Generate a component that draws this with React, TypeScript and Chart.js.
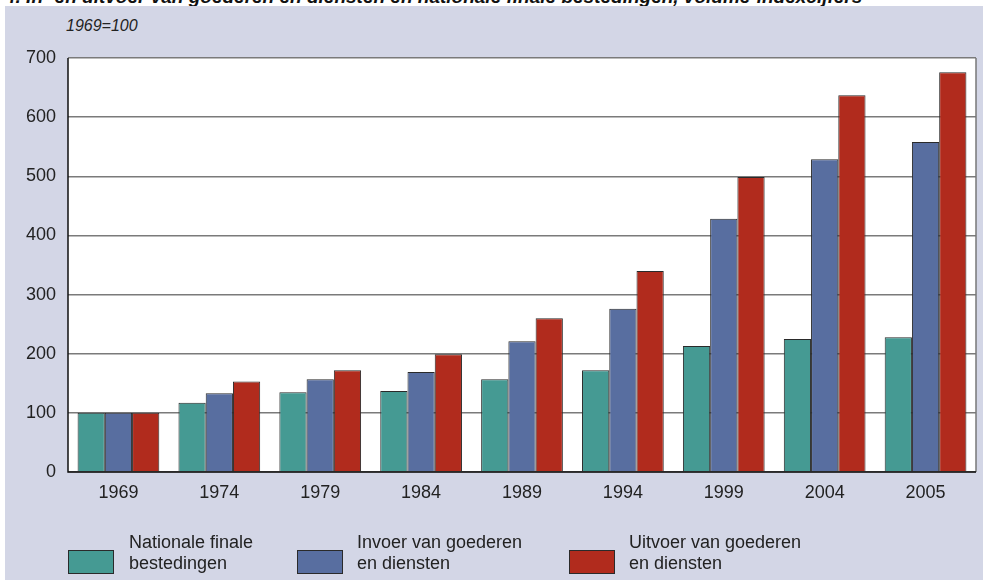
import React, { useEffect, useRef } from "react";
import { Chart, registerables } from "chart.js";

Chart.register(...registerables);

const categories = ["1969", "1974", "1979", "1984", "1989", "1994", "1999", "2004", "2005"];
const nationaleFinale = [100, 117, 135, 137, 157, 172, 213, 225, 228];
const invoer = [100, 133, 157, 169, 221, 276, 428, 529, 558];
const uitvoer = [100, 153, 172, 199, 260, 340, 499, 637, 676];
const seriesNames = ["Nationale finale bestedingen", "Invoer van goederen en diensten", "Uitvoer van goederen en diensten"];
const legendLines = [["Nationale finale", "bestedingen"], ["Invoer van goederen", "en diensten"], ["Uitvoer van goederen", "en diensten"]];
const colors = ["#459a93", "#586ea0", "#b12b1d"];
const yTicks = [0, 100, 200, 300, 400, 500, 600, 700];

const FONT = "'Liberation Sans', Arial, sans-serif";

const plotBg = {
  id: "plotBg",
  beforeDraw(chart: any) {
    const { ctx, chartArea: a } = chart;
    ctx.save();
    ctx.fillStyle = "#ffffff";
    ctx.fillRect(a.left, a.top, a.right - a.left, a.bottom - a.top);
    ctx.restore();
  },
  afterDatasetsDraw(chart: any) {
    const { ctx, chartArea: a } = chart;
    ctx.save();
    ctx.strokeStyle = "#777777";
    ctx.lineWidth = 1.5;
    ctx.beginPath();
    ctx.moveTo(a.right, a.top);
    ctx.lineTo(a.right, a.bottom);
    ctx.stroke();
    ctx.strokeStyle = "#111111";
    ctx.beginPath();
    ctx.moveTo(a.left, a.top);
    ctx.lineTo(a.left, a.bottom);
    ctx.lineTo(a.right, a.bottom);
    ctx.stroke();
    ctx.restore();
  },
};

export default function App() {
  const ref = useRef<HTMLCanvasElement>(null);
  useEffect(() => {
    if (!ref.current) return;
    const data = [nationaleFinale, invoer, uitvoer];
    const chart = new Chart(ref.current, {
      type: "bar",
      data: {
        labels: categories,
        datasets: data.map((d, i) => ({
          label: seriesNames[i],
          data: d,
          backgroundColor: colors[i],
          borderColor: "#2a2a2a",
          borderWidth: 1,
          borderSkipped: "bottom",
          categoryPercentage: 0.81,
          barPercentage: 1.0,
        })),
      },
      options: {
        animation: false,
        responsive: false,
        maintainAspectRatio: false,
        layout: { padding: { left: 0, top: 58, right: 7, bottom: 68 } },
        plugins: { legend: { display: false }, tooltip: { enabled: false }, title: { display: false } },
        scales: {
          x: {
            grid: { display: false, drawTicks: false },
            border: { display: false },
            ticks: { color: "#222", font: { family: FONT, size: 18 }, padding: 10 },
            afterFit(scale: any) { scale.height = 40; },
          },
          y: {
            min: 0,
            max: 700,
            afterBuildTicks(scale: any) { scale.ticks = yTicks.map((v) => ({ value: v })); },
            grid: { color: "#7a7a7a", lineWidth: 1.5, drawTicks: false },
            border: { display: false },
            ticks: { color: "#222", font: { family: FONT, size: 18 }, padding: 12 },
            afterFit(scale: any) { scale.width = 68; },
          },
        },
      },
      plugins: [plotBg],
    });
    return () => chart.destroy();
  }, []);

  return (
    <div style={{ position: "absolute", left: 0, top: 0, width: 983, height: 580, background: "#ffffff", overflow: "hidden", fontFamily: FONT }}>
      <div style={{ position: "absolute", left: 5, top: 0, width: 978, height: 6, overflow: "hidden" }}>
        <div style={{ position: "absolute", left: 0, top: -13, whiteSpace: "nowrap", fontWeight: "bold", fontStyle: "italic", fontSize: 19, lineHeight: "19px", color: "#111" }}>
          4. In- en uitvoer van goederen en diensten en nationale finale bestedingen, volume-indexcijfers
        </div>
      </div>
      <div style={{ position: "absolute", left: 5, top: 6, width: 978, height: 574, background: "#d3d6e6" }} />
      <div style={{ position: "absolute", left: 66, top: 17, fontStyle: "italic", fontSize: 16, color: "#222", lineHeight: "18px" }}>1969=100</div>
      <canvas ref={ref} width={983} height={580} style={{ position: "absolute", left: 0, top: 0, width: 983, height: 580 }} />
      {legendLines.map((lines, i) => {
        const boxX = [68, 297, 569][i];
        const textX = [129, 357, 629][i];
        return (
          <React.Fragment key={i}>
            <div style={{ position: "absolute", left: boxX, top: 550, width: 46, height: 24, background: colors[i], border: "1px solid #2a2a2a", boxSizing: "border-box" }} />
            <div style={{ position: "absolute", left: textX, top: 532, fontSize: 18, lineHeight: "21px", color: "#222", whiteSpace: "nowrap" }}>
              {lines[0]}<br />{lines[1]}
            </div>
          </React.Fragment>
        );
      })}
    </div>
  );
}
